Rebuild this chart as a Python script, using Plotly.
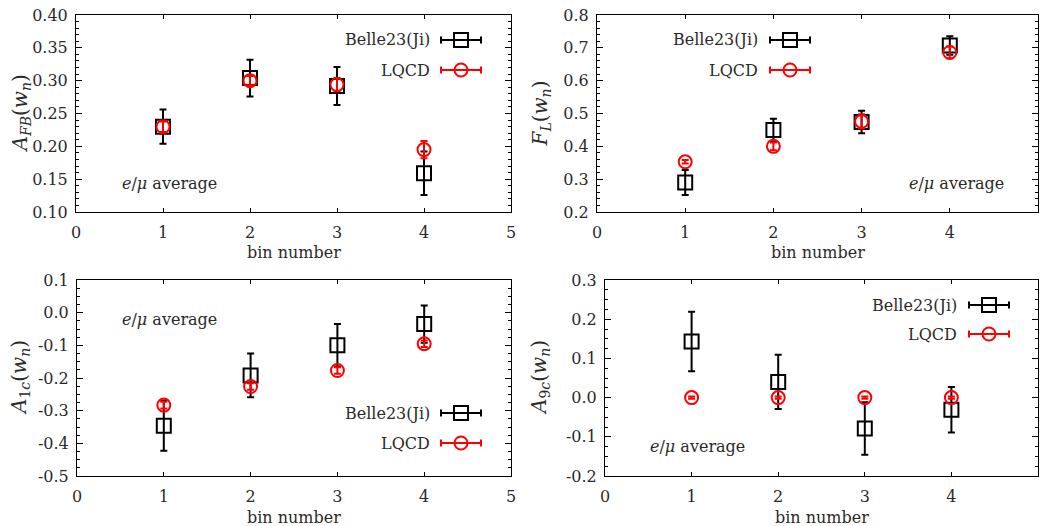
import plotly.graph_objects as go

W, H = 1043, 526
FONT = "DejaVu Serif"

bins = [1, 2, 3, 4]

# A_FB
afb_belle = [0.230, 0.304, 0.292, 0.159]
afb_belle_err = [0.026, 0.028, 0.029, 0.033]
afb_lqcd = [0.230, 0.300, 0.294, 0.195]
afb_lqcd_err = [0.008, 0.007, 0.010, 0.013]

# F_L
fl_belle = [0.290, 0.450, 0.474, 0.707]
fl_belle_err = [0.038, 0.034, 0.034, 0.028]
fl_lqcd = [0.353, 0.400, 0.476, 0.686]
fl_lqcd_err = [0.005, 0.012, 0.022, 0.018]

# A_1c
a1c_belle = [-0.346, -0.192, -0.100, -0.035]
a1c_belle_err = [0.077, 0.067, 0.065, 0.057]
a1c_lqcd = [-0.283, -0.226, -0.177, -0.095]
a1c_lqcd_err = [0.010, 0.010, 0.010, 0.010]

# A_9c
a9c_belle = [0.143, 0.040, -0.079, -0.031]
a9c_belle_err = [0.076, 0.069, 0.067, 0.058]
a9c_lqcd = [0.0, 0.0, 0.0, 0.0]
a9c_lqcd_err = [0.003, 0.003, 0.003, 0.003]

x_ticks = [0, 1, 2, 3, 4, 5]
y1_ticks = [0.10, 0.15, 0.20, 0.25, 0.30, 0.35, 0.40]
y1_text = ["0.10", "0.15", "0.20", "0.25", "0.30", "0.35", "0.40"]
y2_ticks = [0.2, 0.3, 0.4, 0.5, 0.6, 0.7, 0.8]
y2_text = ["0.2", "0.3", "0.4", "0.5", "0.6", "0.7", "0.8"]
y3_ticks = [-0.5, -0.4, -0.3, -0.2, -0.1, 0.0, 0.1]
y3_text = ["-0.5", "-0.4", "-0.3", "-0.2", "-0.1", "0.0", "0.1"]
y4_ticks = [-0.2, -0.1, 0.0, 0.1, 0.2, 0.3]
y4_text = ["-0.2", "-0.1", "0.0", "0.1", "0.2", "0.3"]

series_names = ["Belle23(Ji)", "LQCD"]
ytitles = ["<i>A</i><sub><i>FB</i></sub>(<i>w</i><sub><i>n</i></sub>)",
           "<i>F</i><sub><i>L</i></sub>(<i>w</i><sub><i>n</i></sub>)",
           "<i>A</i><sub>1<i>c</i></sub>(<i>w</i><sub><i>n</i></sub>)",
           "<i>A</i><sub>9<i>c</i></sub>(<i>w</i><sub><i>n</i></sub>)"]
note = "<i>e</i>/<i>μ</i> average"

# pixel boxes of the panels: (left, top, right, bottom)
boxes = [(76, 15, 511, 212), (597, 15, 1038, 212),
         (77, 280, 511, 476), (605, 280, 1038, 476)]
ytitle_x = [20, 540, 20, 540]

def px(x):
    return x / W

def py(y):
    return 1 - y / H

panels = [
    (afb_belle, afb_belle_err, afb_lqcd, afb_lqcd_err, [0.10, 0.40], y1_ticks, y1_text, 0.01),
    (fl_belle, fl_belle_err, fl_lqcd, fl_lqcd_err, [0.2, 0.8], y2_ticks, y2_text, 0.02),
    (a1c_belle, a1c_belle_err, a1c_lqcd, a1c_lqcd_err, [-0.5, 0.1], y3_ticks, y3_text, 0.025),
    (a9c_belle, a9c_belle_err, a9c_lqcd, a9c_lqcd_err, [-0.2, 0.3], y4_ticks, y4_text, 0.025),
]

TXT = "#2a2a2a"
FS = 16
fig = go.Figure()
layout = dict(template="none", width=W, height=H, autosize=False,
              margin=dict(l=0, r=0, t=0, b=0, pad=0),
              paper_bgcolor="white", plot_bgcolor="white", showlegend=False,
              font=dict(family=FONT, size=FS, color=TXT))
annotations = []
shapes = []

for i, (b, be, l, le, yr, yt, ytt, ymin) in enumerate(panels):
    n = "" if i == 0 else str(i + 1)
    xa, ya = "x" + n, "y" + n
    L, T, R, B = boxes[i]
    fig.add_trace(go.Scatter(
        x=bins, y=b, mode="markers", xaxis=xa, yaxis=ya, name=series_names[0],
        marker=dict(symbol="square-open", size=14, color="black", line=dict(width=2)),
        error_y=dict(type="data", array=be, color="black", thickness=2, width=3.5)))
    fig.add_trace(go.Scatter(
        x=bins, y=l, mode="markers", xaxis=xa, yaxis=ya, name=series_names[1],
        marker=dict(symbol="circle-open", size=13, color="red", line=dict(width=2)),
        error_y=dict(type="data", array=le, color="red", thickness=2, width=3.5)))
    common = dict(showgrid=False, zeroline=False, showline=True, linecolor="black",
                  linewidth=1, mirror="ticks", ticks="inside", tickcolor="black",
                  automargin=False,
                  tickfont=dict(family=FONT, size=FS, color=TXT))
    layout["xaxis" + n] = dict(domain=[px(L), px(R)], anchor=ya, range=[0, 5],
                               tickvals=x_ticks, ticklen=4, ticklabelstandoff=6, **common)
    layout["yaxis" + n] = dict(domain=[py(B), py(T)], anchor=xa, range=yr,
                               tickvals=yt, ticktext=ytt, ticklen=6, ticklabelstandoff=4,
                               minor=dict(dtick=ymin, tick0=yr[0], ticks="inside", ticklen=3,
                                          tickcolor="black"),
                               **common)
    annotations.append(dict(text="bin number", xref="paper", yref="paper",
                            x=px((L + R) / 2), y=py(B + 41), xanchor="center", yanchor="middle",
                            showarrow=False, font=dict(family=FONT, size=FS, color=TXT)))
    annotations.append(dict(text=ytitles[i], xref="paper", yref="paper",
                            x=px(ytitle_x[i]), y=py((T + B) / 2),
                            xanchor="center", yanchor="middle", textangle=-90,
                            showarrow=False, font=dict(family=FONT, size=20, color=TXT)))

# e/mu average notes (left x pixel, center y pixel)
note_pos = [(120, 183), (907, 183), (120, 319), (648, 446)]
for (nx, ny) in note_pos:
    annotations.append(dict(text=note, xref="paper", yref="paper", x=px(nx), y=py(ny),
                            xanchor="left", yanchor="middle", showarrow=False,
                            font=dict(family=FONT, size=FS, color=TXT)))

# manual keys: (text right edge px, key center px, y belle, y lqcd)
keys = [(432, 461, 40, 70), (760, 790, 40, 70), (432, 461, 413, 443), (959, 989, 305, 334)]
colors = ["black", "red"]
for (tx, cx, yb, yl) in keys:
    for j, yy in enumerate([yb, yl]):
        c = colors[j]
        annotations.append(dict(text=series_names[j], xref="paper", yref="paper",
                                x=px(tx), y=py(yy), xanchor="right", yanchor="middle",
                                showarrow=False, font=dict(family=FONT, size=FS, color=TXT)))
        base = dict(xref="paper", yref="paper", xsizemode="pixel", ysizemode="pixel",
                    xanchor=px(cx), yanchor=py(yy))
        shapes.append(dict(type="line", x0=-20, x1=20, y0=0, y1=0,
                           line=dict(color=c, width=2), **base))
        shapes.append(dict(type="line", x0=-20, x1=-20, y0=-3.5, y1=3.5,
                           line=dict(color=c, width=2), **base))
        shapes.append(dict(type="line", x0=20, x1=20, y0=-3.5, y1=3.5,
                           line=dict(color=c, width=2), **base))
        if j == 0:
            shapes.append(dict(type="rect", x0=-7, x1=7, y0=-7, y1=7,
                               line=dict(color=c, width=2), **base))
        else:
            shapes.append(dict(type="circle", x0=-6.5, x1=6.5, y0=-6.5, y1=6.5,
                               line=dict(color=c, width=2), **base))

layout["annotations"] = annotations
layout["shapes"] = shapes
fig.update_layout(**layout)
fig.write_html("out.html", config={"responsive": False, "displayModeBar": False})

with open("out.html", encoding="utf-8") as f:
    html = f.read()
html = html.replace("<body>", '<body style="margin:0;padding:0;">', 1)
with open("out.html", "w", encoding="utf-8") as f:
    f.write(html)
